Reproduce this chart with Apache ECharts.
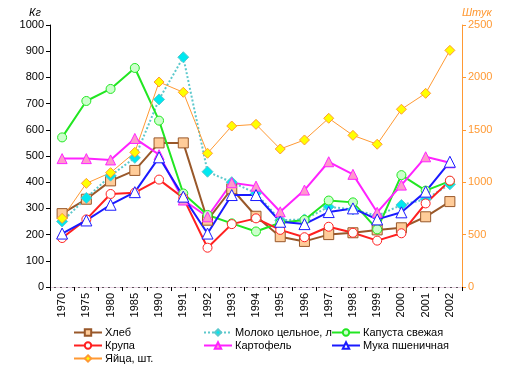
<!DOCTYPE html>
<html>
<head>
<meta charset="utf-8">
<script src="https://cdn.jsdelivr.net/npm/echarts@6/dist/echarts.min.js"></script>
<style>
  html, body { margin: 0; padding: 0; background: #fff; }
  #chart { width: 512px; height: 375px; }
</style>
</head>
<body>
<div id="chart"></div>
<script>
// годы
const years = ['1970', '1975', '1980', '1985', '1990', '1991', '1992', '1993', '1994',
  '1995', '1996', '1997', '1998', '1999', '2000', '2001', '2002']

// кг на душу (левая ось)
const khleb = [280, 335, 405, 445, 550, 550, 255, 375, 270, 192, 174, 200, 207, 218, 226, 268, 326]
const krupa = [187, 258, 355, 360, 410, 340, 150, 240, 262, 218, 190, 230, 207, 177, 205, 319, 406]
const moloko = [250, 340, 425, 493, 716, 877, 440, 400, 358, 255, 258, 306, 296, 272, 313, 335, 392]
const kartofel = [490, 490, 485, 567, 505, 332, 268, 398, 385, 287, 370, 478, 430, 285, 389, 497, 474]
const kapusta = [571, 710, 756, 836, 635, 357, 275, 243, 212, 245, 256, 330, 323, 220, 427, 368, 404]
const muka = [204, 254, 314, 362, 495, 345, 204, 351, 351, 249, 240, 286, 300, 258, 285, 364, 478]

// штук (правая ось)
const yaytsa = [655, 989, 1091, 1285, 1956, 1858, 1276, 1536, 1552, 1317, 1403, 1610, 1447, 1362, 1696, 1848, 2258]

const leftTicks = { min: 0, max: 1000, interval: 100 }
const rightTicks = { min: 0, max: 2500, interval: 500 }

const FONT = 'Liberation Sans, Arial, sans-serif'
const chart = echarts.init(document.getElementById('chart'))

function lineSeries(name, data, color, symbol, fill, size, extra) {
  return Object.assign({
    name: name,
    type: 'line',
    data: data,
    symbol: symbol,
    symbolSize: size,
    lineStyle: { color: color, width: 2 },
    itemStyle: { color: fill, borderColor: color, borderWidth: 1 },
    emphasis: { disabled: true },
    z: 3
  }, extra || {})
}

const series = [
  lineSeries('Хлеб', khleb, '#99582a', 'rect', '#ffcc99', 10),
  lineSeries('Молоко цельное, л', moloko, '#5cc8cc', 'diamond', '#00e8f0', 11, {
    lineStyle: { color: '#5cc8cc', width: 2, type: 'dotted' }
  }),
  lineSeries('Капуста свежая', kapusta, '#22e622', 'circle', '#ccffcc', 9),
  lineSeries('Крупа', krupa, '#ff2020', 'circle', '#ffffff', 9),
  lineSeries('Картофель', kartofel, '#ff22ff', 'triangle', '#ff99cc', 10),
  lineSeries('Мука пшеничная', muka, '#1a1aff', 'triangle', '#ffffff', 11),
  lineSeries('Яйца, шт.', yaytsa, '#ff9933', 'diamond', '#ffff00', 10, {
    yAxisIndex: 1,
    lineStyle: { color: '#ff9933', width: 1 },
    itemStyle: { color: '#ffff00', borderColor: '#ff9933', borderWidth: 1 }
  })
]

const legendBase = {
  orient: 'vertical',
  top: 327,
  padding: 0,
  itemWidth: 28,
  itemHeight: 8,
  itemGap: 2,
  selectedMode: false,
  textStyle: { fontSize: 11, color: '#000', fontFamily: FONT, padding: [0, 0, 0, -2] }
}

const plainNum = v => String(v)

const option = {
  animation: false,
  textStyle: { fontFamily: FONT },
  grid: { left: 50, right: 50, top: 25, bottom: 88 },
  legend: [
    Object.assign({}, legendBase, { left: 73, data: ['Хлеб', 'Крупа', 'Яйца, шт.'] }),
    Object.assign({}, legendBase, { left: 203, data: ['Молоко цельное, л', 'Картофель'] }),
    Object.assign({}, legendBase, { left: 331, data: ['Капуста свежая', 'Мука пшеничная'] })
  ],
  xAxis: [
    {
      type: 'category',
      data: years,
      boundaryGap: true,
      axisLine: { lineStyle: { color: '#000', width: 1 } },
      axisTick: { show: true, length: 4, lineStyle: { color: '#000' } },
      axisLabel: { rotate: 90, fontSize: 11, color: '#000', margin: 6, interval: 0 },
      splitLine: { show: false }
    },
    {
      type: 'category',
      data: years,
      position: 'top',
      axisLine: { lineStyle: { color: '#e6cfe0', width: 1, type: 'dashed' } },
      axisTick: { show: false },
      axisLabel: { show: false }
    }
  ],
  yAxis: [
    {
      type: 'value',
      min: leftTicks.min,
      max: leftTicks.max,
      interval: leftTicks.interval,
      name: 'Кг',
      nameLocation: 'end',
      nameGap: 7,
      nameTextStyle: { fontStyle: 'italic', fontSize: 11, color: '#000', align: 'right', padding: [0, 9, 0, 0] },
      axisLine: { show: true, lineStyle: { color: '#000', width: 1 } },
      axisTick: { show: true, length: 4, lineStyle: { color: '#000' } },
      axisLabel: { fontSize: 11, color: '#000', margin: 6, formatter: plainNum },
      splitLine: { show: false }
    },
    {
      type: 'value',
      min: rightTicks.min,
      max: rightTicks.max,
      interval: rightTicks.interval,
      name: 'Штук',
      nameLocation: 'end',
      nameGap: 7,
      nameTextStyle: { fontStyle: 'italic', fontSize: 11, color: '#ff9933', align: 'left', padding: [0, 0, 0, 0] },
      axisLine: { show: true, lineStyle: { color: '#ff9933', width: 1 } },
      axisTick: { show: true, length: 4, lineStyle: { color: '#ff9933' } },
      axisLabel: { fontSize: 11, color: '#ff9933', margin: 6, formatter: plainNum },
      splitLine: { show: false }
    }
  ],
  series: series
}

chart.setOption(option)
</script>
</body>
</html>
